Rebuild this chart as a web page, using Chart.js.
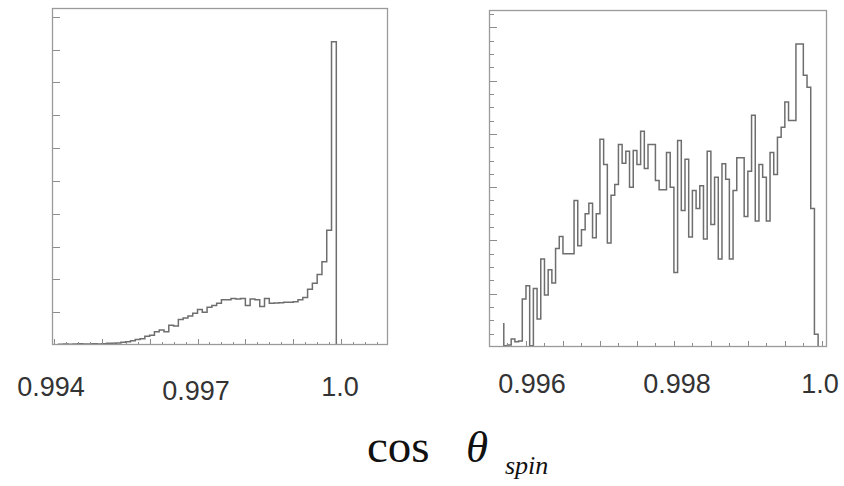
<!DOCTYPE html>
<html>
<head>
<meta charset="utf-8">
<script src="https://cdn.jsdelivr.net/npm/chart.js@4.4.1/dist/chart.umd.min.js"></script>
<style>
  html, body { margin:0; padding:0; background:#fff; }
  #wrap { position:relative; width:844px; height:486px; overflow:hidden; }
  canvas { position:absolute; top:0; }
  .tick { position:absolute; font-family:"Liberation Sans", Arial, sans-serif; font-size:27px; line-height:27px; color:#333; transform:translateX(-50%); white-space:nowrap; }
  .ttl { position:absolute; font-family:"Liberation Serif", "Times New Roman", serif; color:#111; line-height:1; white-space:nowrap; }
</style>
</head>
<body>
<div id="wrap">
  <canvas id="leftChart" width="420" height="360" style="left:0"></canvas>
  <canvas id="rightChart" width="404" height="360" style="left:440px"></canvas>

  <div class="tick" style="left:51px; top:374px">0.994</div>
  <div class="tick" style="left:196px; top:378px">0.997</div>
  <div class="tick" style="left:340px; top:374px">1.0</div>
  <div class="tick" style="left:532px; top:371px">0.996</div>
  <div class="tick" style="left:677px; top:371px">0.998</div>
  <div class="tick" style="left:820px; top:371px">1.0</div>

  <div class="ttl" style="left:367px; top:423px; font-size:47px">cos</div>
  <div class="ttl" style="left:466px; top:425px; font-size:45px; font-style:italic">&theta;</div>
  <div class="ttl" style="left:505px; top:453px; font-size:26px; font-style:italic">spin</div>
</div>

<script>
// left panel: cos(theta_spin), bins of 0.0001 from 0.994
const leftStart = 0.994;
const leftBin = 0.0001;
const leftCounts = [
  0, 0, 0.02, 0.03, 0.02, 0.03, 0.04, 0.03, 0.03, 0.04,
  0.03, 0.04, 0.05, 0.05, 0.06, 0.08, 0.1, 0.13, 0.17, 0.19,
  0.27, 0.3, 0.4, 0.46, 0.4, 0.6, 0.58, 0.78, 0.82, 0.88,
  0.97, 1.08, 1.0, 1.15, 1.2, 1.27, 1.38, 1.38, 1.42, 1.4,
  1.42, 1.2, 1.4, 1.38, 1.17, 1.42, 1.27, 1.28, 1.29, 1.3,
  1.3, 1.32, 1.38, 1.45, 1.7, 1.88, 2.15, 2.54, 3.5, 9.24
];

// right panel: zoom near 1.0, bins of 0.00005 from 0.9957
const rightStart = 0.9957;
const rightBin = 0.00005;
const rightCounts = [
  1.8, 0.1, 0.15, 0.6, 0.4, 0.45, 3.6, 4.6, 0.1, 4.4,
  2.1, 6.6, 3.9, 5.8, 4.8, 7.4, 8.3, 7.0, 7.0, 7.0,
  11, 7.6, 8.8, 10, 10.8, 8.2, 10, 15.6, 13.7, 7.8,
  11.4, 12.2, 15.2, 13.8, 14.7, 12, 14.75, 13.7, 16.2, 13.4,
  15.2, 15.2, 12.5, 11.8, 11.8, 14.6, 12, 5.6, 15.5, 10.25,
  14.1, 8.25, 11.75, 10.4, 12.1, 8.1, 14.7, 9.2, 12.75, 6.6,
  13.75, 12.6, 6.6, 11.75, 14.2, 14.2, 9.8, 13.2, 17.4, 9.45,
  13.7, 12.75, 9.45, 14.6, 12.95, 15.75, 16.5, 18.4, 17, 17,
  22.75, 22.75, 20.4, 19.5, 10.4, 0.95
];

// axis ranges and tick steps (no labels on y)
const leftX = { min:0.99396, max:1.00098, step:0.00025, major:0.001, from:0.994, to:1.00075 };
const leftY = { max:10.27, step:1, major:1 };
const rightX = { min:0.9955, max:1.00007, step:0.00025, major:0.0005, from:0.99575, to:1.0 };
const rightY = { max:25.3, step:1, major:4 };

// histogram as stepped line: one point per bin edge
function stepPoints(start, w, counts){
  const pts = counts.map((c,i)=>({x:start+i*w, y:c}));
  pts.push({x:start+counts.length*w, y:0});
  return pts;
}

// frame + inward ticks, using the chart's own scales
const frameTicks = {
  id:'frameTicks',
  afterDatasetsDraw(chart, args, o){
    const ctx = chart.ctx, a = chart.chartArea, x = chart.scales.x, y = chart.scales.y;
    ctx.save();
    ctx.strokeStyle = '#8c8c8c'; ctx.lineWidth = 1;
    ctx.beginPath();
    for(let i=0;;i++){
      const v = o.x.from + i*o.x.step;
      if(v > o.x.to + 1e-9) break;
      const r = v/o.x.major, isMajor = Math.abs(r-Math.round(r)) < 1e-4;
      const px = Math.round(x.getPixelForValue(v)) + 0.5;
      ctx.moveTo(px, a.bottom); ctx.lineTo(px, a.bottom - (isMajor ? o.xMajorLen : o.xMinorLen));
    }
    for(let v=o.y.step; v < o.y.max; v+=o.y.step){
      const isMajor = Math.abs(v/o.y.major - Math.round(v/o.y.major)) < 1e-6;
      const py = Math.round(y.getPixelForValue(v)) + 0.5;
      ctx.moveTo(a.left, py); ctx.lineTo(a.left + (isMajor ? o.yMajorLen : o.yMinorLen), py);
    }
    ctx.stroke();
    ctx.strokeStyle = '#9a9a9a'; ctx.lineWidth = 1.3;
    ctx.strokeRect(a.left+0.5, a.top+0.5, a.right-a.left-1, a.bottom-a.top-1);
    ctx.restore();
  }
};

function makeHist(id, start, w, counts, xr, yr, pad, lens){
  return new Chart(document.getElementById(id).getContext('2d'), {
    type:'line',
    data:{ datasets:[{
      data: stepPoints(start, w, counts),
      stepped:'after', borderColor:'#6e6e6e', borderWidth:1.5,
      pointRadius:0, fill:false, tension:0
    }]},
    options:{
      responsive:false, animation:false, devicePixelRatio:1,
      layout:{ padding:pad },
      plugins:{ legend:{display:false}, tooltip:{enabled:false},
        frameTicks: Object.assign({x:xr, y:yr}, lens) },
      scales:{
        x:{ type:'linear', min:xr.min, max:xr.max, display:false },
        y:{ type:'linear', min:0, max:yr.max, display:false }
      }
    },
    plugins:[frameTicks]
  });
}

makeHist('leftChart', leftStart, leftBin, leftCounts, leftX, leftY,
  {left:52, top:8, right:32, bottom:15},
  {xMinorLen:3, xMajorLen:6, yMinorLen:8, yMajorLen:8});
makeHist('rightChart', rightStart, rightBin, rightCounts, rightX, rightY,
  {left:49, top:10, right:17, bottom:13},
  {xMinorLen:4, xMajorLen:6, yMinorLen:5, yMajorLen:8});
</script>
</body>
</html>
